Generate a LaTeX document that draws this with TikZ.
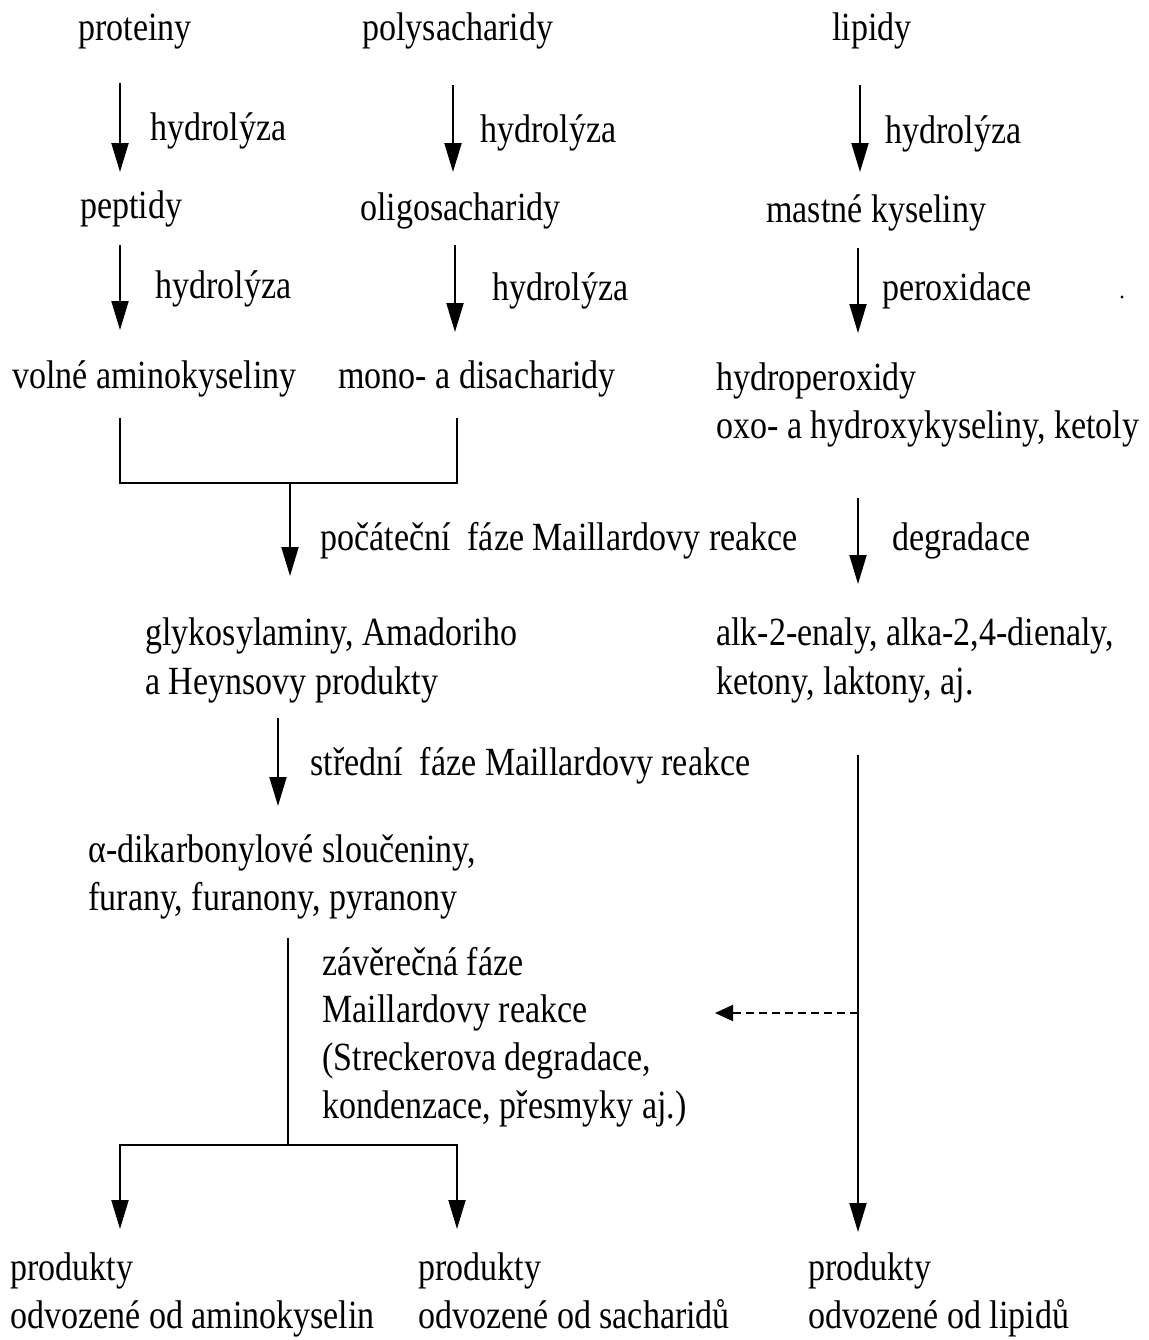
\documentclass[tikz,border=0pt]{standalone}
\usepackage{fontspec}
\newfontfamily\diafont{Liberation Serif}[FakeStretch=0.85]
\usetikzlibrary{arrows.meta}
\begin{document}
\begin{tikzpicture}[x=0.5pt,y=-0.5pt,
  txt/.style={anchor=base west, inner sep=0pt, font=\diafont\fontsize{20}{24}\selectfont},
  arr/.style={line width=1pt, -{Triangle[length=14.5pt,width=8.5pt]}},
  ln/.style={line width=1pt},
  dsh/.style={line width=1pt, dash pattern=on 4pt off 2.5pt, -{Triangle[length=9pt,width=8pt]}}]
\useasboundingbox (0,0) rectangle (1148,1340);

% top row
\node[txt] (prot) at (78,40) {proteiny};
\node[txt] (poly) at (362,40) {polysacharidy};
\node[txt] (lip) at (832,40) {lipidy};

\coordinate (a1s) at (120,83);  \coordinate (a1e) at (120,172);
\coordinate (a2s) at (453,85);  \coordinate (a2e) at (453,172);
\coordinate (a3s) at (860,85);  \coordinate (a3e) at (860,172);
\draw[arr] (a1s) -- (a1e);
\draw[arr] (a2s) -- (a2e);
\draw[arr] (a3s) -- (a3e);
\node[txt] (h1) at (150,140) {hydrolýza};
\node[txt] (h2) at (480,142) {hydrolýza};
\node[txt] (h3) at (885,143) {hydrolýza};

% second row
\node[txt] (pep) at (80,218) {peptidy};
\node[txt] (olig) at (360,220) {oligosacharidy};
\node[txt] (mast) at (766,222) {mastné kyseliny};

\coordinate (b1s) at (120,245);  \coordinate (b1e) at (120,330);
\coordinate (b2s) at (455,245);  \coordinate (b2e) at (455,332);
\coordinate (b3s) at (858,248);  \coordinate (b3e) at (858,333);
\draw[arr] (b1s) -- (b1e);
\draw[arr] (b2s) -- (b2e);
\draw[arr] (b3s) -- (b3e);
\node[txt] (h4) at (155,298) {hydrolýza};
\node[txt] (h5) at (492,300) {hydrolýza};
\node[txt] (perox) at (882,300) {peroxidace};
\fill (1122,297) circle (1.6);

% third row
\node[txt] (volne) at (12,388) {volné aminokyseliny};
\node[txt] (mono) at (338,388) {mono- a disacharidy};
\node[txt] (hydro) at (716,390) {hydroperoxidy};
\node[txt] (oxo) at (716,438) {oxo- a hydroxykyseliny, ketoly};

% bracket join
\coordinate (j1) at (120,418); \coordinate (j2) at (120,483);
\coordinate (j3) at (457,418); \coordinate (j4) at (457,483);
\draw[ln] (j1) -- (j2) -- (j4) -- (j3);
\coordinate (c1s) at (290,483); \coordinate (c1e) at (290,576);
\draw[arr] (c1s) -- (c1e);
\node[txt] (poc) at (320,550) {počáteční\ \ fáze Maillardovy reakce};

\coordinate (c2s) at (858,498); \coordinate (c2e) at (858,584);
\draw[arr] (c2s) -- (c2e);
\node[txt] (degr) at (892,550) {degradace};

% fourth row
\node[txt] (glyk) at (145,645) {glykosylaminy, Amadoriho};
\node[txt] (heyns) at (145,694) {a Heynsovy produkty};
\node[txt] (alk) at (716,645) {alk-2-enaly, alka-2,4-dienaly,};
\node[txt] (keton) at (716,694) {ketony, laktony, aj.};

\coordinate (d1s) at (278,718); \coordinate (d1e) at (278,806);
\draw[arr] (d1s) -- (d1e);
\node[txt] (stred) at (310,775) {střední\ \ fáze Maillardovy reakce};

% long lipid line
\coordinate (l1s) at (858,755); \coordinate (l1e) at (858,1232);
\draw[arr] (l1s) -- (l1e);

% fifth row
\node[txt] (alfa) at (88,862) {α-dikarbonylové sloučeniny,};
\node[txt] (furan) at (88,910) {furany, furanony, pyranony};

\coordinate (e1) at (288,938); \coordinate (e2) at (288,1145);
\draw[ln] (e1) -- (e2);
\coordinate (f1) at (120,1145); \coordinate (f2) at (457,1145);
\coordinate (f1e) at (120,1229); \coordinate (f2e) at (457,1229);
\draw[arr] (e2) -- (f1) -- (f1e);
\draw[arr] (e2) -- (f2) -- (f2e);

\node[txt] (zav1) at (322,975) {závěrečná fáze};
\node[txt] (zav2) at (322,1022) {Maillardovy reakce};
\node[txt] (zav3) at (322,1070) {(Streckerova degradace,};
\node[txt] (zav4) at (322,1118) {kondenzace, přesmyky aj.)};

\coordinate (g1) at (858,1013); \coordinate (g2) at (715,1013);
\draw[dsh] (g1) -- (g2);

% bottom row
\node[txt] (p1) at (10,1280) {produkty};
\node[txt] (p1b) at (10,1328) {odvozené od aminokyselin};
\node[txt] (p2) at (418,1280) {produkty};
\node[txt] (p2b) at (418,1328) {odvozené od sacharidů};
\node[txt] (p3) at (808,1280) {produkty};
\node[txt] (p3b) at (808,1328) {odvozené od lipidů};
\end{tikzpicture}
\end{document}
